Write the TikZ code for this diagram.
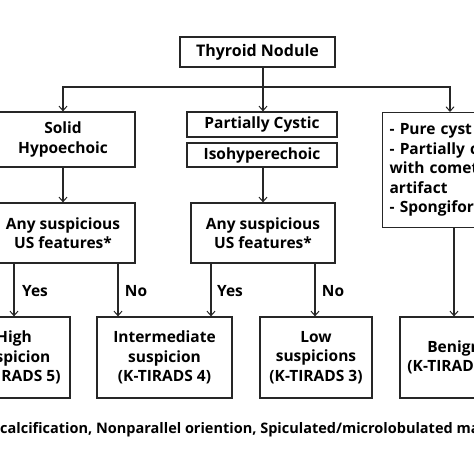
\documentclass[tikz,border=0pt]{standalone}
\usepackage{fontspec}
\setmainfont{Open Sans}
\usetikzlibrary{arrows.meta}
\tikzset{
  box/.style={draw=black!85, line width=1.2pt, inner sep=0pt, align=center, font=\bfseries\fontsize{15.5}{19.5}\selectfont},
  lbl/.style={inner sep=0pt, font=\bfseries\fontsize{15.5}{19.5}\selectfont},
  conn/.style={draw=black!85, line width=1.1pt},
  arr/.style={conn, -{Straight Barb[length=4.5pt,width=8pt,line width=1pt]}},
}
\begin{document}
\begin{tikzpicture}[x=1pt,y=-1pt]
\useasboundingbox (0,0) rectangle (474,474);
\fill[white] (0,0) rectangle (474,474);
\clip (0,0) rectangle (474,474);
\node[box, minimum width=155pt, minimum height=30pt, font=\bfseries\fontsize{16}{19.5}\selectfont] (thy) at (257.5,52) {Thyroid Nodule};
\node[box, minimum width=144pt, minimum height=55pt] (solid) at (63,139.5) {Solid\\Hypoechoic};
\node[box, minimum width=150pt, minimum height=25pt] (pc) at (262,124.5) {Partially Cystic};
\node[box, minimum width=150pt, minimum height=24pt] (iso) at (262,155) {Isohyperechoic};
\node[box, anchor=north west, minimum height=115pt, align=left, text width=180pt, inner xsep=7pt] (pure) at (382,112) {- Pure cyst\\- Partially cystic\\with comet tail\\artifact\\- Spongiform};
\node[box, minimum width=144pt, minimum height=60pt] (any1) at (63,233) {Any suspicious\\US features*};
\node[box, minimum width=144pt, minimum height=60pt] (any2) at (263,233) {Any suspicious\\US features*};
\node[box, minimum width=112pt, minimum height=81pt] (high) at (14,357.5) {High\\suspicion\\(K-TIRADS 5)};
\node[box, minimum width=135pt, minimum height=81pt] (inter) at (164.5,357.5) {Intermediate\\suspicion\\(K-TIRADS 4)};
\node[box, minimum width=112pt, minimum height=81pt] (low) at (316,357.5) {Low\\suspicions\\(K-TIRADS 3)};
\node[box, minimum width=108pt, minimum height=81pt] (benign) at (454,357.5) {Benign\\(K-TIRADS 2)};
% connectors
\coordinate (top) at (263,87);
\coordinate (pin) at (450,0);
\draw[conn] (thy.south -| top) -- (top);
\draw[arr] (top) -| (solid.north);
\draw[arr] (top) -- (pc.north -| top);
\draw[arr] (top) -| (pure.north -| pin);
\draw[arr] (solid.south) -- (any1.north);
\draw[arr] (iso.south -| top) -- (any2.north -| top);
\coordinate (y1) at (14,0);
\coordinate (n1) at (118,0);
\coordinate (y2) at (211,0);
\coordinate (n2) at (315,0);
\coordinate (bn) at (454,0);
\draw[arr] (any1.south -| y1) -- (high.north -| y1);
\draw[arr] (any1.south -| n1) -- (inter.north -| n1);
\draw[arr] (any2.south -| y2) -- (inter.north -| y2);
\draw[arr] (any2.south -| n2) -- (low.north -| n2);
\draw[arr] (pure.south -| bn) -- (benign.north -| bn);
\node[lbl] (yes1) at (35,291) {Yes};
\node[lbl] (no1) at (136,291) {No};
\node[lbl] (yes2) at (230,291) {Yes};
\node[lbl] (no2) at (333,291) {No};
\node[lbl, anchor=west, font=\bfseries\fontsize{14.5}{15}\selectfont] (foot) at (0,430) {\llap{*Micro}calcification, Nonparallel oriention, Spiculated/microlobulated margin};
\end{tikzpicture}
\end{document}
